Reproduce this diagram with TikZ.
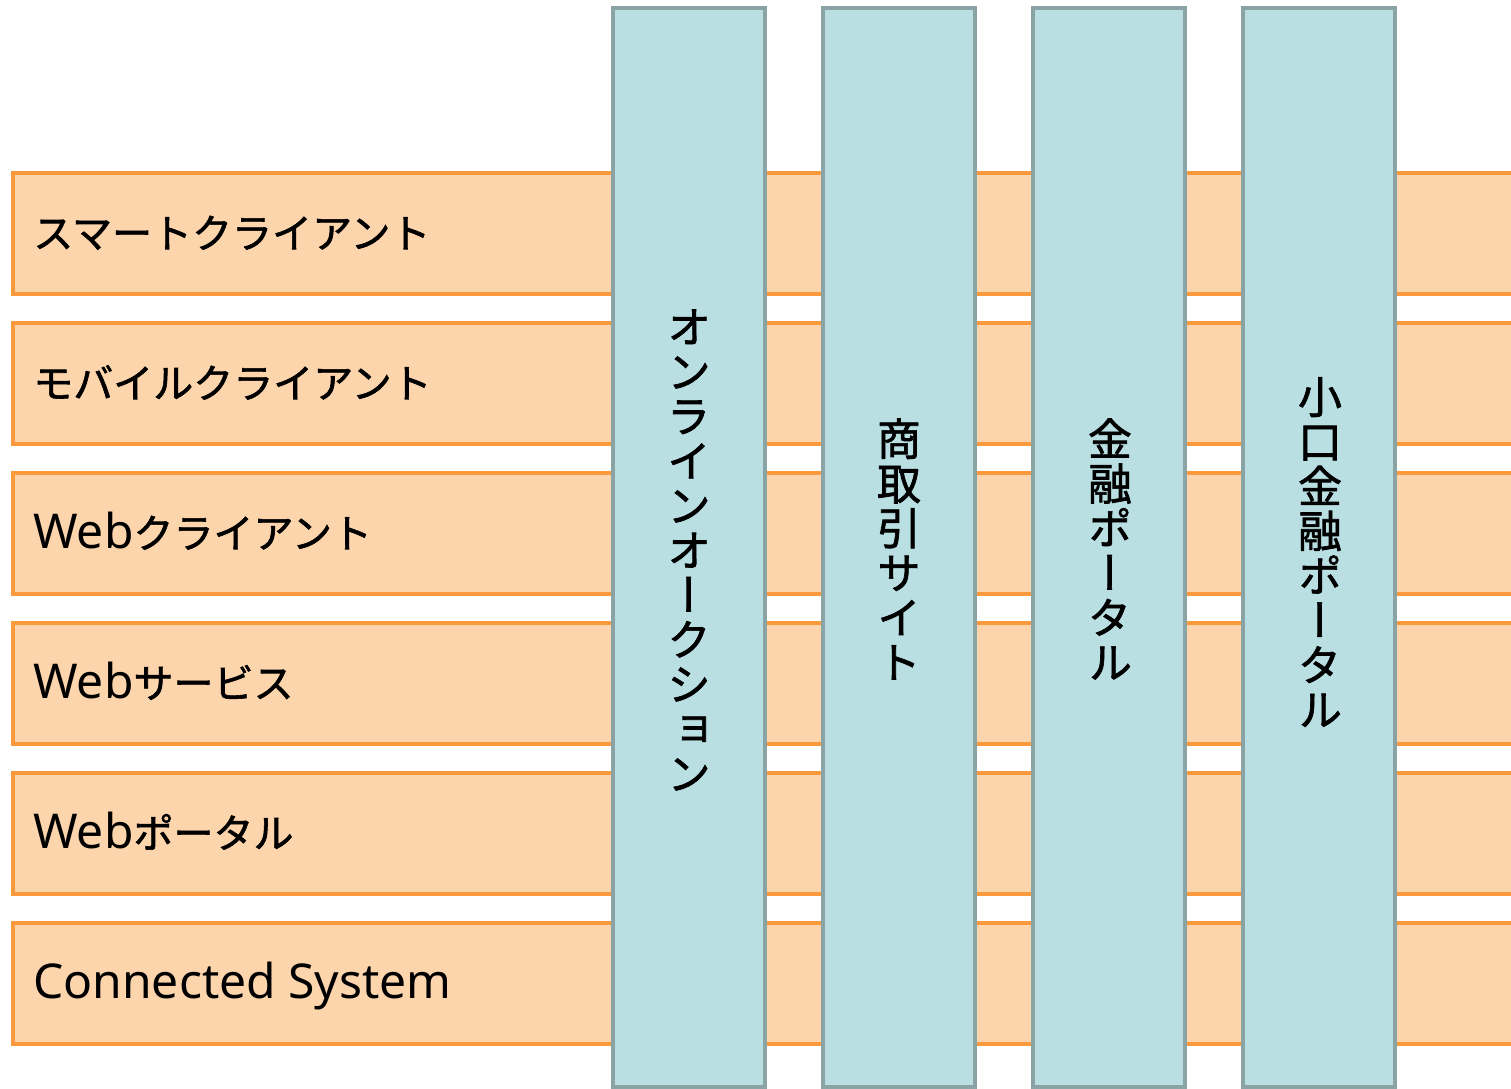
\documentclass[tikz,border=0pt]{standalone}
\usepackage{fontspec}
\newfontfamily\jpfont{Noto Sans CJK JP}[FakeBold=1.5]
\newfontfamily\jpvfont{Noto Sans CJK JP}[RawFeature=+vert, FakeBold=1.5]
\newfontfamily\lafont{Noto Sans}
\newcommand{\lat}[1]{{\lafont\fontsize{36}{40}\selectfont #1}}
\definecolor{rowfill}{HTML}{FDD5AD}
\definecolor{rowline}{HTML}{FA9A3C}
\definecolor{colfill}{HTML}{BADFE3}
\definecolor{colline}{HTML}{8AA4A6}
\begin{document}
\begin{tikzpicture}[x=0.75pt, y=-0.75pt,
    rowbox/.style={draw=rowline, fill=rowfill, line width=3pt},
    colbox/.style={draw=colline, fill=colfill, line width=3pt},
    rowtext/.style={anchor=base west, inner sep=0pt, font=\jpfont\fontsize{30}{36}\selectfont},
    coltext/.style={align=center, inner sep=0pt, font=\jpvfont\fontsize{33}{33.5}\selectfont}]
      \def\rh{121};
      \def\cw{152};
      \useasboundingbox (0,0) rectangle (1511,1089);
      %
      \draw[rowbox] (13, 173) rectangle +(1530, \rh);   % first row
      \node[rowtext] (smart) at (33, 248) {スマートクライアント};
      %
      \draw[rowbox] (13, 323) rectangle +(1530, \rh);   % second row
      \node[rowtext] (mobile) at (33, 398) {モバイルクライアント};
      %
      \draw[rowbox] (13, 473) rectangle +(1530, \rh);   % third row
      \node[rowtext] (webclient) at (33, 548) {\lat{Web}クライアント};
      %
      \draw[rowbox] (13, 623) rectangle +(1530, \rh);   % fourth row
      \node[rowtext] (webservice) at (33, 698) {\lat{Web}サービス};
      %
      \draw[rowbox] (13, 773) rectangle +(1530, \rh);   % fifth row
      \node[rowtext] (webportal) at (33, 848) {\lat{Web}ポータル};
      %
      \draw[rowbox] (13, 923) rectangle +(1530, \rh);   % last row
      \node[rowtext] (connected) at (33, 998) {\lat{Connected System}};
      %
      \draw[colbox] (613, 8) rectangle +(\cw, 1079);   % first column
      \node[coltext] (auction) at (689, 550) {オ\\ン\\ラ\\イ\\ン\\オ\\ー\\ク\\シ\\ョ\\ン};
      %
      \draw[colbox] (823, 8) rectangle +(\cw, 1079);   % second column
      \node[coltext] (trade) at (899, 549) {商\\取\\引\\サ\\イ\\ト};
      %
      \draw[colbox] (1033, 8) rectangle +(\cw, 1079);  % third column
      \node[coltext] (finance) at (1110, 549) {金\\融\\ポ\\ー\\タ\\ル};
      %
      \draw[colbox] (1243, 8) rectangle +(\cw, 1079);  % fourth column
      \node[coltext] (micro) at (1320, 552) {小\\口\\金\\融\\ポ\\ー\\タ\\ル};
      %
    \end{tikzpicture}
\end{document}
